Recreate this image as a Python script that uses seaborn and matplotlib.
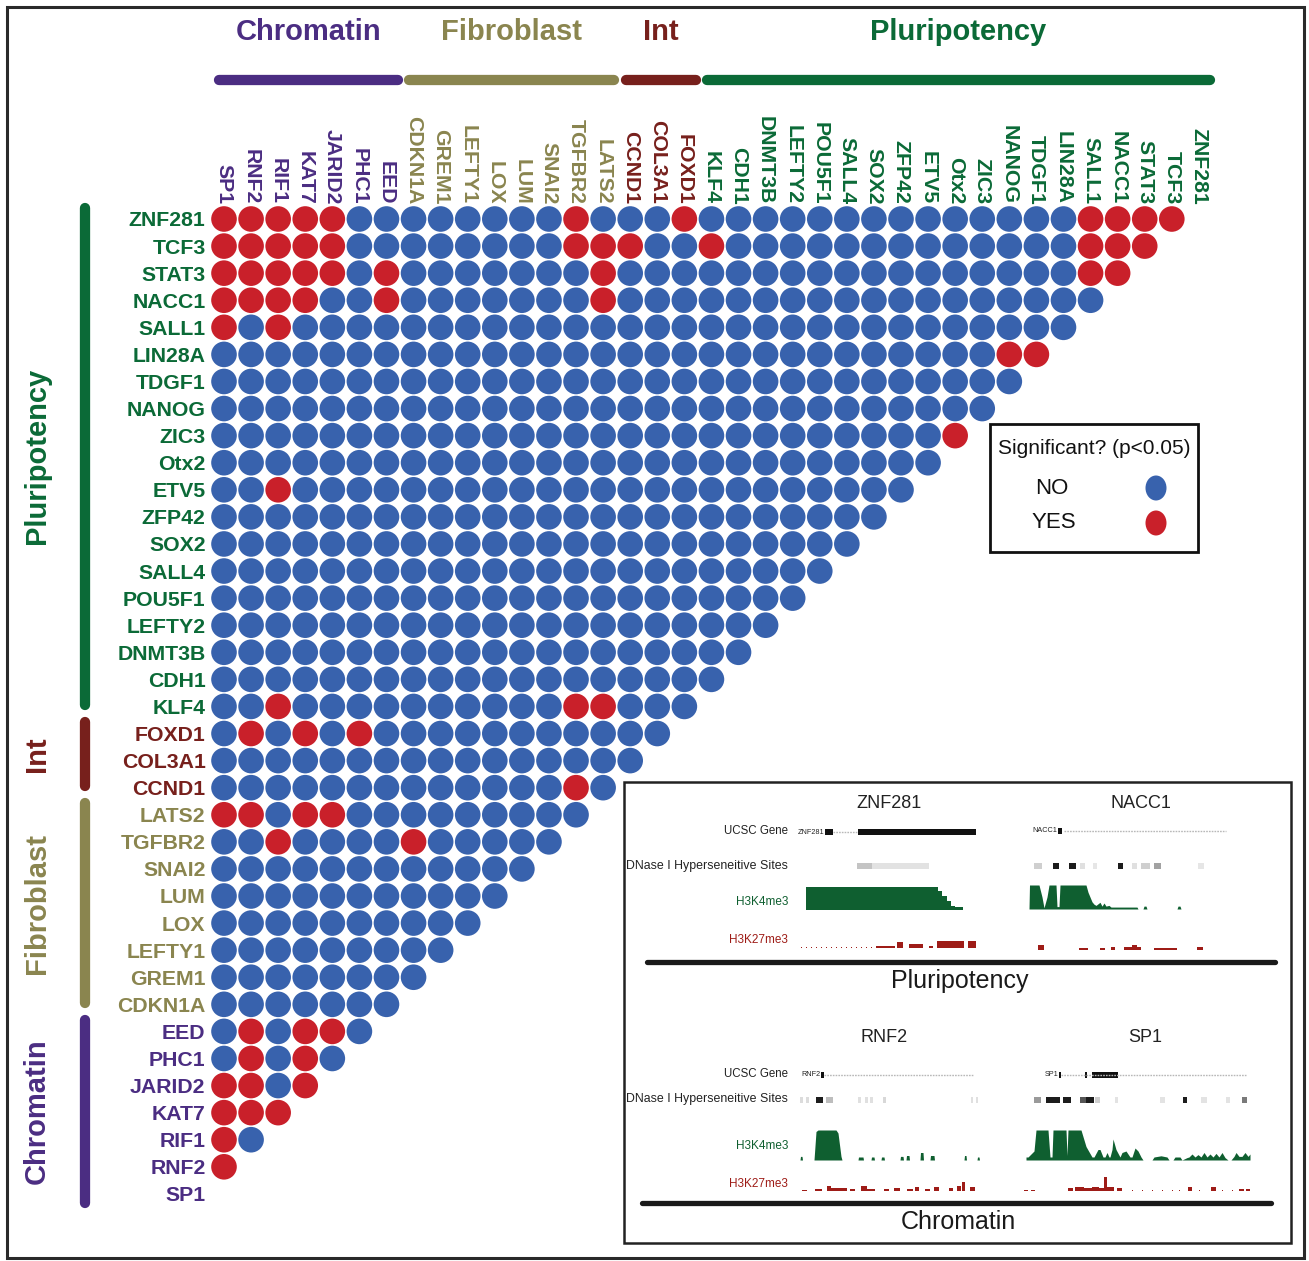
import numpy as np
import pandas as pd
import matplotlib
matplotlib.use("Agg")
import matplotlib.pyplot as plt
import seaborn as sns
from matplotlib.patches import Rectangle, Ellipse

sns.set_theme(style="white")
plt.rcParams['font.family'] = ['Liberation Sans', 'DejaVu Sans']

# ---------------------------------------------------------------- data
COL_GENES = ["SP1", "RNF2", "RIF1", "KAT7", "JARID2", "PHC1", "EED",
             "CDKN1A", "GREM1", "LEFTY1", "LOX", "LUM", "SNAI2", "TGFBR2", "LATS2",
             "CCND1", "COL3A1", "FOXD1",
             "KLF4", "CDH1", "DNMT3B", "LEFTY2", "POU5F1", "SALL4", "SOX2", "ZFP42",
             "ETV5", "Otx2", "ZIC3", "NANOG", "TDGF1", "LIN28A", "SALL1", "NACC1",
             "STAT3", "TCF3", "ZNF281"]
ROW_GENES = COL_GENES[::-1]

GROUP_NAMES = ["Chromatin", "Fibroblast", "Int", "Pluripotency"]
GROUP_SIZES = [7, 8, 3, 19]
GROUP_COLORS = ["#4b2d82", "#8a854f", "#77201c", "#0b6a37"]

# significant (p<0.05) partners for each row gene
SIG_ZNF281 = ["SP1", "RNF2", "RIF1", "KAT7", "JARID2", "TGFBR2", "FOXD1", "SALL1", "NACC1", "STAT3", "TCF3"]
SIG_TCF3 = ["SP1", "RNF2", "RIF1", "KAT7", "JARID2", "TGFBR2", "LATS2", "CCND1", "KLF4", "SALL1", "NACC1", "STAT3"]
SIG_STAT3 = ["SP1", "RNF2", "RIF1", "KAT7", "JARID2", "EED", "LATS2", "SALL1", "NACC1"]
SIG_NACC1 = ["SP1", "RNF2", "RIF1", "KAT7", "EED", "LATS2"]
SIG_SALL1 = ["SP1", "RIF1"]
SIG_LIN28A = ["NANOG", "TDGF1"]
SIG_ZIC3 = ["Otx2"]
SIG_ETV5 = ["RIF1"]
SIG_KLF4 = ["RIF1", "TGFBR2", "LATS2"]
SIG_FOXD1 = ["RNF2", "KAT7", "PHC1"]
SIG_CCND1 = ["TGFBR2"]
SIG_LATS2 = ["SP1", "RNF2", "KAT7", "JARID2"]
SIG_TGFBR2 = ["RIF1", "CDKN1A"]
SIG_EED = ["RNF2", "KAT7", "JARID2"]
SIG_PHC1 = ["RNF2", "KAT7"]
SIG_JARID2 = ["SP1", "RNF2", "KAT7"]
SIG_KAT7 = ["SP1", "RNF2", "RIF1"]
SIG_RIF1 = ["SP1"]
SIG_RNF2 = ["SP1"]

SIGNIFICANT = {
    "ZNF281": SIG_ZNF281, "TCF3": SIG_TCF3, "STAT3": SIG_STAT3, "NACC1": SIG_NACC1,
    "SALL1": SIG_SALL1, "LIN28A": SIG_LIN28A, "ZIC3": SIG_ZIC3, "ETV5": SIG_ETV5,
    "KLF4": SIG_KLF4, "FOXD1": SIG_FOXD1, "CCND1": SIG_CCND1, "LATS2": SIG_LATS2,
    "TGFBR2": SIG_TGFBR2, "EED": SIG_EED, "PHC1": SIG_PHC1, "JARID2": SIG_JARID2,
    "KAT7": SIG_KAT7, "RIF1": SIG_RIF1, "RNF2": SIG_RNF2,
}

# ---- browser tracks (positions are offsets inside each locus window)
ZNF281_GENE_EXONS = [(30, 38), (63, 181)]
ZNF281_GENE_INTRON = (38, 63)
ZNF281_DNASE = [(62, 77, "#c4c4c4"), (77, 134, "#e2e2e2")]
ZNF281_K4_POS = [11, 143, 147, 152, 156, 160, 168]
ZNF281_K4_VAL = [1.0, 0.83, 0.61, 0.40, 0.19, 0.11]
ZNF281_K27 = [(81, 100, 0.35), (102, 108, 0.8), (114, 128, 0.55), (134, 138, 0.35),
              (142, 169, 1.0), (173, 181, 1.0)]
ZNF281_K27_DOTS = list(range(6, 81, 5))

NACC1_GENE_EXONS = [(30, 34)]
NACC1_GENE_INTRON = (36, 198)
NACC1_DNASE = [(6, 14, "#cfcfcf"), (25, 31, "#1c1c1c"), (41, 48, "#1c1c1c"), (52, 57, "#e0e0e0"),
               (65, 69, "#e6e6e6"), (90, 95, "#1c1c1c"), (104, 109, "#e0e0e0"),
               (113, 122, "#cfcfcf"), (126, 133, "#a2a2a2"), (170, 176, "#e6e6e6")]
NACC1_K4_POS = [1, 1.5, 11, 14, 16, 19, 21, 28, 29, 31, 32, 58, 60, 62, 64, 66, 68, 72, 74, 76,
                78, 81, 83, 109, 110, 115, 116, 118, 119, 149, 150, 152, 153]
NACC1_K4_VAL = [0, 1.0, 1.0, 0.5, 0.05, 0.5, 1.0, 1.0, 0.1, 0.1, 1.0, 1.0, 0.7, 0.5, 0.3, 0.2,
                0.15, 0.28, 0.12, 0.25, 0.12, 0.15, 0.08, 0.08, 0, 0, 0.12, 0.12, 0, 0, 0.12, 0.12, 0]
NACC1_K27 = [(10, 16, 0.75), (51, 60, 0.3), (72, 77, 0.35), (83, 87, 0.5), (96, 104, 0.45),
             (104, 109, 0.7), (109, 113, 0.4), (126, 149, 0.35), (169, 175, 0.4)]

RNF2_GENE_EXONS = [(24, 27)]
RNF2_GENE_INTRON = (27, 177)
RNF2_DNASE = [(3, 6, "#dcdcdc"), (9, 12, "#dcdcdc"), (19, 26, "#1c1c1c"), (29, 36, "#bdbdbd"),
              (61, 64, "#e0e0e0"), (68, 71, "#e0e0e0"), (73, 76, "#e0e0e0"), (86, 89, "#d8d8d8"),
              (174, 176, "#e0e0e0"), (179, 181, "#e0e0e0")]
RNF2_K4_POS = [3, 3.5, 5, 5.5, 17, 19, 21, 39, 41, 44, 45, 61, 61.5, 66, 66.5, 74, 74.5, 77, 77.5,
               84, 84.5, 87, 87.5, 103, 103.5, 106, 106.5, 109, 109.5, 112, 112.5, 123, 123.5, 126,
               126.5, 133, 133.5, 137, 137.5, 167, 167.5, 169, 169.5, 180, 180.5, 182, 182.5]
RNF2_K4_VAL = [0, 0.12, 0.12, 0, 0, 0.95, 1.0, 1.0, 0.9, 0.12, 0, 0, 0.1, 0.1, 0, 0, 0.1, 0.1, 0,
               0, 0.1, 0.1, 0, 0, 0.12, 0.12, 0, 0, 0.15, 0.15, 0, 0, 0.25, 0.25, 0, 0, 0.15, 0.15,
               0, 0, 0.15, 0.15, 0, 0, 0.1, 0.1, 0]
RNF2_K27 = [(5, 10, 0.12), (18, 25, 0.15), (30, 34, 0.45), (34, 50, 0.22), (53, 58, 0.2),
            (64, 70, 0.45), (70, 78, 0.2), (87, 92, 0.15), (97, 103, 0.25), (110, 116, 0.2),
            (118, 122, 0.3), (128, 133, 0.2), (137, 142, 0.35), (152, 156, 0.25), (160, 164, 0.45),
            (165, 168, 0.75), (173, 178, 0.3)]

SP1_GENE_EXONS = [(37, 39), (63, 65), (70, 96)]
SP1_GENE_INTRON = (39, 224)
SP1_DNASE = [(12, 19, "#9a9a9a"), (24, 38, "#1c1c1c"), (41, 49, "#1c1c1c"), (58, 64, "#565656"),
             (64, 72, "#1c1c1c"), (73, 78, "#cfcfcf"), (93, 96, "#e3e3e3"), (138, 143, "#e3e3e3"),
             (161, 165, "#1c1c1c"), (179, 185, "#e3e3e3"), (204, 208, "#e3e3e3"), (220, 225, "#7a7a7a")]
SP1_K4_POS = [4, 6, 12, 14, 26, 28, 30, 31, 44, 45, 46, 59, 64, 70, 72, 76, 78, 81, 83, 85, 87,
              88, 90, 91, 94, 98, 100, 104, 108, 110, 113, 116, 119, 121, 130, 132, 139, 145, 147,
              151, 153, 158, 160, 165, 167, 170, 173, 176, 179, 182, 185, 188, 191, 194, 197, 200,
              203, 206, 209, 212, 214, 217, 220, 223, 226, 228]
SP1_K4_VAL = [0.1, 0.1, 0.3, 1.0, 1.0, 0.1, 0.1, 1.0, 1.0, 0.15, 1.0, 1.0, 0.45, 0.1, 0.1, 0.35,
              0.35, 0.1, 0.1, 0.25, 0.1, 0.1, 0.35, 0.7, 0.35, 0.1, 0.25, 0.3, 0.1, 0.1, 0.4, 0.3,
              0.1, 0, 0, 0.1, 0.14, 0.1, 0, 0, 0.1, 0.1, 0, 0.08, 0.1, 0.2, 0.1, 0.18, 0.1, 0.25,
              0.1, 0.2, 0.1, 0.22, 0.1, 0.25, 0.08, 0, 0, 0.12, 0.25, 0.12, 0.12, 0.25, 0.12, 0.2]
SP1_K27 = [(2, 6, 0.1), (9, 13, 0.1), (46, 51, 0.2), (53, 62, 0.3), (62, 70, 0.22), (70, 77, 0.3),
           (77, 82, 0.25), (82, 85, 1.0), (85, 92, 0.28), (95, 100, 0.2), (166, 170, 0.3),
           (189, 194, 0.3), (217, 222, 0.15), (224, 228, 0.15)]
SP1_K27_DOTS = [110, 120, 130, 140, 150, 157, 177, 200, 210]

# ---------------------------------------------------------------- figure
W, H = 1309, 1261
fig = plt.figure(figsize=(W / 100, H / 100), dpi=100)

STEP = 27.08
X0, Y0 = 224.0, 219.0
ax_left = X0 - STEP / 2
ax_top = Y0 - STEP / 2
ax_size = STEP * 37
ax = fig.add_axes([ax_left / W, 1 - (ax_top + ax_size) / H, ax_size / W, ax_size / H])

# gene -> group colour
gene_color = {}
start = 0
group_ranges = []
for name, size, col in zip(GROUP_NAMES, GROUP_SIZES, GROUP_COLORS):
    for g in COL_GENES[start:start + size]:
        gene_color[g] = col
    group_ranges.append((name, start, start + size - 1, col))
    start += size

BLUE, RED = "#3862ad", "#c9202a"

records = []
for r, rg in enumerate(ROW_GENES):
    n = len(COL_GENES) - 1 - r
    for c in range(n):
        cg = COL_GENES[c]
        records.append({"col": c, "row": r,
                        "sig": "YES" if cg in SIGNIFICANT.get(rg, []) else "NO"})
df = pd.DataFrame(records)

sns.scatterplot(data=df, x="col", y="row", hue="sig", palette={"NO": BLUE, "YES": RED},
                s=340, linewidth=0, legend=False, ax=ax, zorder=3)

ax.set_xlim(-0.5, 36.5)
ax.set_ylim(36.5, -0.5)
ax.set_xlabel("")
ax.set_ylabel("")
for sp in ax.spines.values():
    sp.set_visible(False)
ax.grid(False)
ax.patch.set_alpha(0)

ax.xaxis.tick_top()
ax.set_xticks(range(len(COL_GENES)))
ax.set_xticklabels(COL_GENES, rotation=270, fontsize=15.3, fontweight="bold")
ax.set_yticks(range(len(ROW_GENES)))
ax.set_yticklabels(ROW_GENES, fontsize=15.3, fontweight="bold")
ax.tick_params(axis="x", length=0, pad=0.8)
ax.tick_params(axis="y", length=0, pad=3.5)
for lab in ax.get_xticklabels():
    lab.set_color(gene_color[lab.get_text()])
for lab in ax.get_yticklabels():
    lab.set_color(gene_color[lab.get_text()])

# group bars and titles along the top
BAR_POS = -5.13
TITLE_POS = -6.92
for name, a, b, col in group_ranges:
    ax.plot([a - 0.35 + 0.18, b + 0.6 - 0.18], [BAR_POS, BAR_POS], color=col, lw=7.4,
            solid_capstyle="round", clip_on=False)
    ax.text((a - 0.35 + b + 0.6) / 2, TITLE_POS, name, ha="center", va="center",
            fontsize=21, fontweight="bold", color=col, clip_on=False)

# group bars and titles along the left side (rows run in reverse gene order)
n = len(COL_GENES)
for name, a, b, col in group_ranges:
    r0, r1 = n - 1 - b, n - 1 - a
    y_start = r0 - 0.6
    y_end = r1 + (0.5 if r1 == n - 1 else 0.12)
    ax.plot([BAR_POS, BAR_POS], [y_start + 0.18, y_end - 0.18], color=col, lw=7.4,
            solid_capstyle="round", clip_on=False)
    ax.text(-6.9, (y_start + y_end) / 2, name, rotation=90, ha="center", va="center",
            fontsize=21, fontweight="bold", color=col, clip_on=False)

# ---------------------------------------------------------------- overlay (pixel space)
ov = fig.add_axes([0, 0, 1, 1])
ov.set_xlim(0, W)
ov.set_ylim(H, 0)
ov.axis("off")
ov.patch.set_alpha(0)

ov.add_patch(Rectangle((7, 7), W - 12, H - 10, fill=False, lw=2.2, ec="#2a2a2a"))

# legend
ov.add_patch(Rectangle((990, 424), 208, 128, fill=False, lw=2.0, ec="#111111"))
ov.text(1094, 448, "Significant? (p<0.05)", ha="center", va="center", fontsize=15, color="#111111")
ov.text(1035, 488, "NO", ha="left", va="center", fontsize=16, color="#111111")
ov.text(1032, 523, "YES", ha="left", va="center", fontsize=16, color="#111111")
ov.add_patch(Ellipse((1156, 488), 21, 25, color=BLUE, lw=0))
ov.add_patch(Ellipse((1156, 523), 21, 25, color=RED, lw=0))

# ---------------------------------------------------------------- genome browser inset
ov.add_patch(Rectangle((624, 782), 667, 461, fill=True, fc="white", lw=1.8, ec="#222222"))

GREEN_T, RED_T = "#0f5f30", "#9e1c17"


def gene_track(x0, y, label, exons, intron):
    ov.plot([x0 + intron[0], x0 + intron[1]], [y, y], color="#b8b8b8", lw=1.0,
            ls=(0, (1.2, 0.8)))
    for a, b in exons:
        ov.add_patch(Rectangle((x0 + a, y - 2.8), b - a, 5.6, color="#111111", lw=0))
    ov.text(x0 + exons[0][0] - 1, y, label, ha="right", va="center", fontsize=5.2, color="#222222")


def dnase_track(x0, y, segs):
    for a, b, c in segs:
        ov.add_patch(Rectangle((x0 + a, y - 3.2), b - a, 6.4, color=c, lw=0))


def signal_track(x0, base, height, pos, val, color, step=False):
    xs = x0 + np.asarray(pos, float)
    if step:
        ys = np.asarray(list(val) + [val[-1]], float)
        ov.fill_between(xs, base, base - height * ys, step="post", color=color, lw=0)
    else:
        ov.fill_between(xs, base, base - height * np.asarray(val, float), color=color, lw=0)


def block_track(x0, base, height, segs, color, dots=()):
    for a, b, h in segs:
        ov.add_patch(Rectangle((x0 + a, base), b - a, -height * h, color=color, lw=0))
    for d in dots:
        ov.add_patch(Rectangle((x0 + d, base), 1.2, -1.3, color=color, lw=0))


def track_labels(y_gene, y_dnase, y_k4, y_k27):
    kw = dict(ha="right", va="center")
    ov.text(788, y_gene, "UCSC Gene", color="#222222", fontsize=8.3, **kw)
    ov.text(788, y_dnase, "DNase I Hyperseneitive Sites", color="#222222", fontsize=8.9, **kw)
    ov.text(788, y_k4, "H3K4me3", color=GREEN_T, fontsize=8.5, **kw)
    ov.text(788, y_k27, "H3K27me3", color=RED_T, fontsize=8.5, **kw)


# pluripotency loci
track_labels(831, 866, 902, 940)
ov.text(889, 803, "ZNF281", ha="center", va="center", fontsize=13, color="#222222")
ov.text(1141, 803, "NACC1", ha="center", va="center", fontsize=13, color="#222222")
gene_track(795, 832, "ZNF281", ZNF281_GENE_EXONS, ZNF281_GENE_INTRON)
gene_track(1028, 831, "NACC1", NACC1_GENE_EXONS, NACC1_GENE_INTRON)
dnase_track(795, 866, ZNF281_DNASE)
dnase_track(1028, 866, NACC1_DNASE)
signal_track(795, 910, 23, ZNF281_K4_POS, ZNF281_K4_VAL, GREEN_T, step=True)
signal_track(1028, 909, 24, NACC1_K4_POS, NACC1_K4_VAL, GREEN_T)
block_track(795, 948, 7, ZNF281_K27, RED_T, ZNF281_K27_DOTS)
block_track(1028, 950, 7, NACC1_K27, RED_T)
ov.plot([647, 1275], [962, 962], color="#1a1a1a", lw=3.8, solid_capstyle="round")
ov.text(960, 981, "Pluripotency", ha="center", va="center", fontsize=18, color="#1a1a1a")

# chromatin loci
track_labels(1074, 1099, 1146, 1184)
ov.text(884, 1038, "RNF2", ha="center", va="center", fontsize=13, color="#222222")
ov.text(1145, 1038, "SP1", ha="center", va="center", fontsize=13, color="#222222")
gene_track(797, 1075, "RNF2", RNF2_GENE_EXONS, RNF2_GENE_INTRON)
gene_track(1022, 1075, "SP1", SP1_GENE_EXONS, SP1_GENE_INTRON)
dnase_track(797, 1100, RNF2_DNASE)
dnase_track(1022, 1100, SP1_DNASE)
signal_track(797, 1160, 30, RNF2_K4_POS, RNF2_K4_VAL, GREEN_T)
signal_track(1022, 1160, 30, SP1_K4_POS, SP1_K4_VAL, GREEN_T)
block_track(797, 1191, 12, RNF2_K27, RED_T)
block_track(1022, 1191, 14, SP1_K27, RED_T, SP1_K27_DOTS)
ov.plot([642, 1271], [1203, 1203], color="#1a1a1a", lw=3.8, solid_capstyle="round")
ov.text(958, 1222, "Chromatin", ha="center", va="center", fontsize=18, color="#1a1a1a")

fig.savefig("out.png", dpi=100)
